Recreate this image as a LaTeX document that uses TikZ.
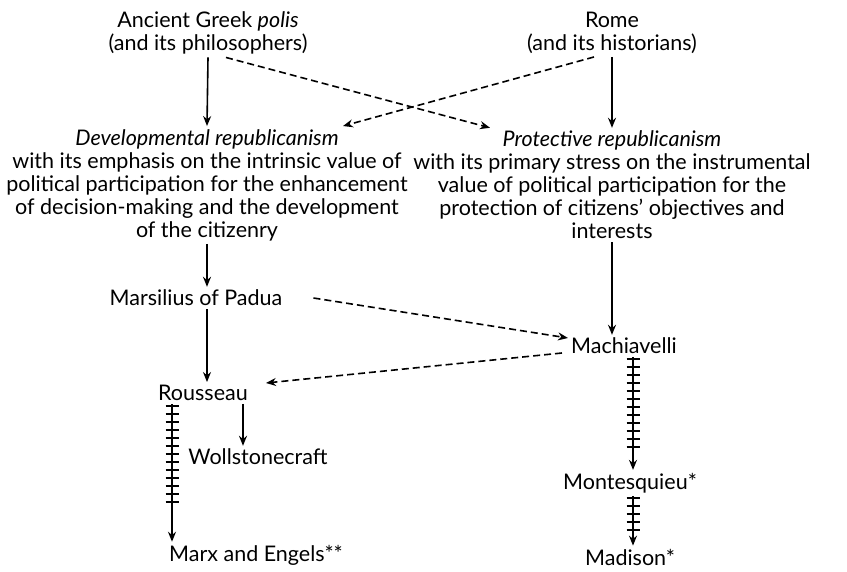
\documentclass[tikz,border=0pt]{standalone}
\usepackage{fontspec}
\setmainfont{Lato}
\usetikzlibrary{arrows.meta,positioning,calc,decorations.markings}

\tikzstyle{txt} = [align=center, inner sep=3pt, font=\fontsize{21.5}{23}\selectfont]
\tikzstyle{dep} = [-{Stealth[length=10pt,width=8pt]}, line width=1.6pt]
\tikzstyle{infl} = [dep, dash pattern=on 7pt off 4pt]
\tikzset{
  railroad/.style = {
    dep,
    postaction = {decorate, decoration = {markings,
        mark = between positions 2pt and #1 step 8pt with {
          \draw[arrows=-, solid, line width=1.6pt] (0,-6.5pt) -- (0,6.5pt);}}}
  },
}

\begin{document}
\begin{tikzpicture}[x=1pt,y=-1pt]
    \useasboundingbox[fill=white] (0,0) rectangle (847,571);

    % sources
    \node[txt] (greek) at (208,33) {Ancient Greek \textit{polis}\\(and its philosophers)};
    \node[txt] (rome) at (612,33) {Rome\\(and its historians)};

    % the two traditions
    \node[txt] (dev) at (207,185) {\textit{Developmental republicanism}\\
        with its emphasis on the intrinsic value of\\
        political participation for the enhancement\\
        of decision-making and the development\\
        of the citizenry};
    \node[txt] (prot) at (612,185) {\textit{Protective republicanism}\\
        with its primary stress on the instrumental\\
        value of political participation for the\\
        protection of citizens' objectives and\\
        interests};

    % thinkers
    \node[txt] (marsilius) at (196,298) {Marsilius of Padua};
    \node[txt] (machiavelli) at (624,346) {Machiavelli};
    \node[txt] (rousseau) at (203,393) {Rousseau};
    \node[txt] (wollstone) at (258,457) {Wollstonecraft};
    \node[txt] (marx) at (256,555) {Marx and Engels**};
    \node[txt] (montesquieu) at (630,483) {Montesquieu*};
    \node[txt] (madison) at (630,557) {Madison*};

    % Paths
    \draw[dep] (greek.south) -- (dev.north);
    \draw[dep] (rome.south) -- (prot.north);
    \draw[infl] ([xshift=18pt]greek.south) -- ([xshift=-122pt]prot.north);
    \draw[infl] ([xshift=-18pt]rome.south) -- ([xshift=136pt]dev.north);

    \draw[dep] (dev.south) -- (dev.south |- marsilius.north);
    \draw[dep] (prot.south) -- (prot.south |- machiavelli.north);

    \draw[infl] ([xshift=28pt]marsilius.east) -- ([yshift=8pt]machiavelli.west);
    \draw[infl] ([xshift=-6pt,yshift=-7pt]machiavelli.west) -- ([xshift=15pt,yshift=10pt]rousseau.east);
    \draw[dep] ([xshift=11pt]marsilius.south) -- ([xshift=11pt]marsilius.south |- rousseau.north);

    \draw[dep] ([xshift=40pt]rousseau.south) -- ([xshift=40pt]rousseau.south |- wollstone.north);
    \draw[railroad=-36pt] ([xshift=-31pt]rousseau.south) -- ([xshift=-31pt]rousseau.south |- marx.north);

    \draw[railroad=-17pt] ([xshift=9pt]machiavelli.south) -- ([xshift=9pt]machiavelli.south |- montesquieu.north);
    \draw[railroad=-12pt] ([xshift=3pt]montesquieu.south) -- ([xshift=3pt]montesquieu.south |- madison.north);
\end{tikzpicture}
\end{document}
